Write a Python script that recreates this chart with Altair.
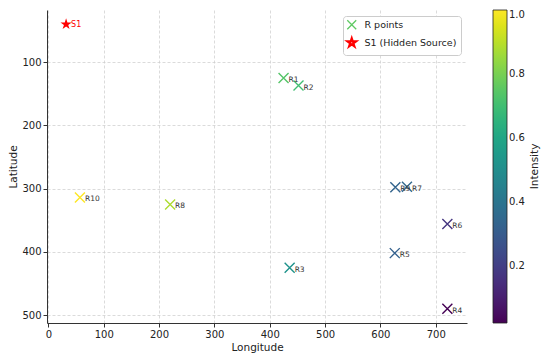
import altair as alt
import pandas as pd

names = ["R1", "R2", "R3", "R4", "R5", "R6", "R7", "R8", "R9", "R10"]
lon = [425, 452, 436, 721, 626, 721, 648, 220, 627, 57]
lat = [125, 137, 425, 490, 402, 356, 297, 325, 298, 314]
intensity = [0.74, 0.70, 0.52, 0.02, 0.32, 0.17, 0.35, 0.88, 0.33, 1.0]

src_name = ["S1"]
src_lon = [32]
src_lat = [40]

legend_labels = ["R points", "S1 (Hidden Source)"]
cbar_ticks = [0.2, 0.4, 0.6, 0.8, 1.0]
cbar_title = ["Intensity"]

rdf = pd.DataFrame({"name": names, "lon": lon, "lat": lat,
                    "intensity": intensity, "kind": legend_labels[0]})
sdf = pd.DataFrame({"name": src_name, "lon": src_lon, "lat": src_lat,
                    "kind": legend_labels[1]})
tdf = pd.DataFrame({"t": cbar_title})

XPATH = "M-1,-1L1,1M-1,1L1,-1"
STAR = ("M0,-1L0.2245,-0.309L0.951,-0.309L0.363,0.118L0.588,0.809L0,0.382"
        "L-0.588,0.809L-0.363,0.118L-0.951,-0.309L-0.2245,-0.309Z")

FONT = "DejaVu Sans"
W, H = 420, 313

xsc = alt.Scale(domain=[-2.5, 756.5], nice=False, zero=False)
ysc = alt.Scale(domain=[17.5, 512.5], nice=False, zero=False, reverse=True)

xenc = alt.X("lon:Q", scale=xsc, title="Longitude",
             axis=alt.Axis(values=[0, 100, 200, 300, 400, 500, 600, 700]))
yenc = alt.Y("lat:Q", scale=ysc, title="Latitude",
             axis=alt.Axis(values=[100, 200, 300, 400, 500]))

shape_enc = alt.Shape(
    "kind:N",
    scale=alt.Scale(domain=legend_labels, range=[XPATH, STAR]),
    legend=alt.Legend(
        title=None, orient="top-right", offset=6,
        fillColor="white", strokeColor="#cccccc", cornerRadius=3,
        padding=4, labelFontSize=9.5, labelFont=FONT, labelColor="#222",
        symbolSize=80, rowPadding=1, labelOffset=8,
        symbolFillColor={"expr": "datum.value === 'S1 (Hidden Source)' ? '#ff0000' : 'transparent'"},
        symbolStrokeColor={"expr": "datum.value === 'R points' ? '#5ec962' : '#ff0000'"},
        symbolStrokeWidth={"expr": "datum.value === 'R points' ? 1.3 : 2.2"},
    ),
)

rpts = alt.Chart(rdf).mark_point(filled=False, size=100, strokeWidth=1.4, opacity=1).encode(
    x=xenc, y=yenc,
    shape=shape_enc,
    stroke=alt.Stroke(
        "intensity:Q",
        scale=alt.Scale(scheme="viridis", domain=[min(intensity), max(intensity)],
                        nice=False, zero=False),
        legend=alt.Legend(
            title=None, orient="right", direction="vertical",
            gradientLength=H, gradientThickness=14, offset=26,
            values=cbar_ticks, format=".1f",
            labelFontSize=10, labelFont=FONT, labelColor="#222",
            gradientStrokeColor="#222", gradientStrokeWidth=0.8,
            tickCount=5,
        ),
    ),
)

spt = alt.Chart(sdf).mark_point(filled=True, size=140, color="#ff0000", opacity=1).encode(
    x=xenc, y=yenc, shape=shape_enc,
)

rlab = alt.Chart(rdf).mark_text(align="left", baseline="middle", dx=5, dy=2,
                                fontSize=7.5, font=FONT, color="#333").encode(
    x=xenc, y=yenc, text="name:N")

slab = alt.Chart(sdf).mark_text(align="left", baseline="middle", dx=5, dy=1,
                                fontSize=8, font=FONT, color="#ff0000").encode(
    x=xenc, y=yenc, text="name:N")

ctitle = alt.Chart(tdf).mark_text(angle=270, align="center", baseline="middle",
                                  fontSize=10.5, font=FONT, color="#222").encode(
    x=alt.value(W + 68), y=alt.value(H / 2), text="t:N")

chart = alt.layer(rpts, spt, rlab, slab, ctitle).resolve_legend(shape="shared").properties(
    width=W, height=H,
    autosize=alt.AutoSizeParams(type="none"),
    padding={"left": 39, "top": 2, "right": 75, "bottom": 30},
    background="white",
).configure_view(stroke=None).configure_axis(
    labelFont=FONT, labelFontSize=10, labelColor="#222",
    titleFont=FONT, titleFontSize=10.5, titleFontWeight="normal", titleColor="#222",
    domainColor="#333", domainWidth=1, tickColor="#333", tickSize=4,
    grid=True, gridColor="#cccccc", gridDash=[3, 2], gridWidth=0.7,
).configure_axisX(titlePadding=3, labelPadding=2).configure_axisY(titlePadding=3, labelPadding=2)

chart.save("out.html", embed_options={"renderer": "svg", "actions": False})
